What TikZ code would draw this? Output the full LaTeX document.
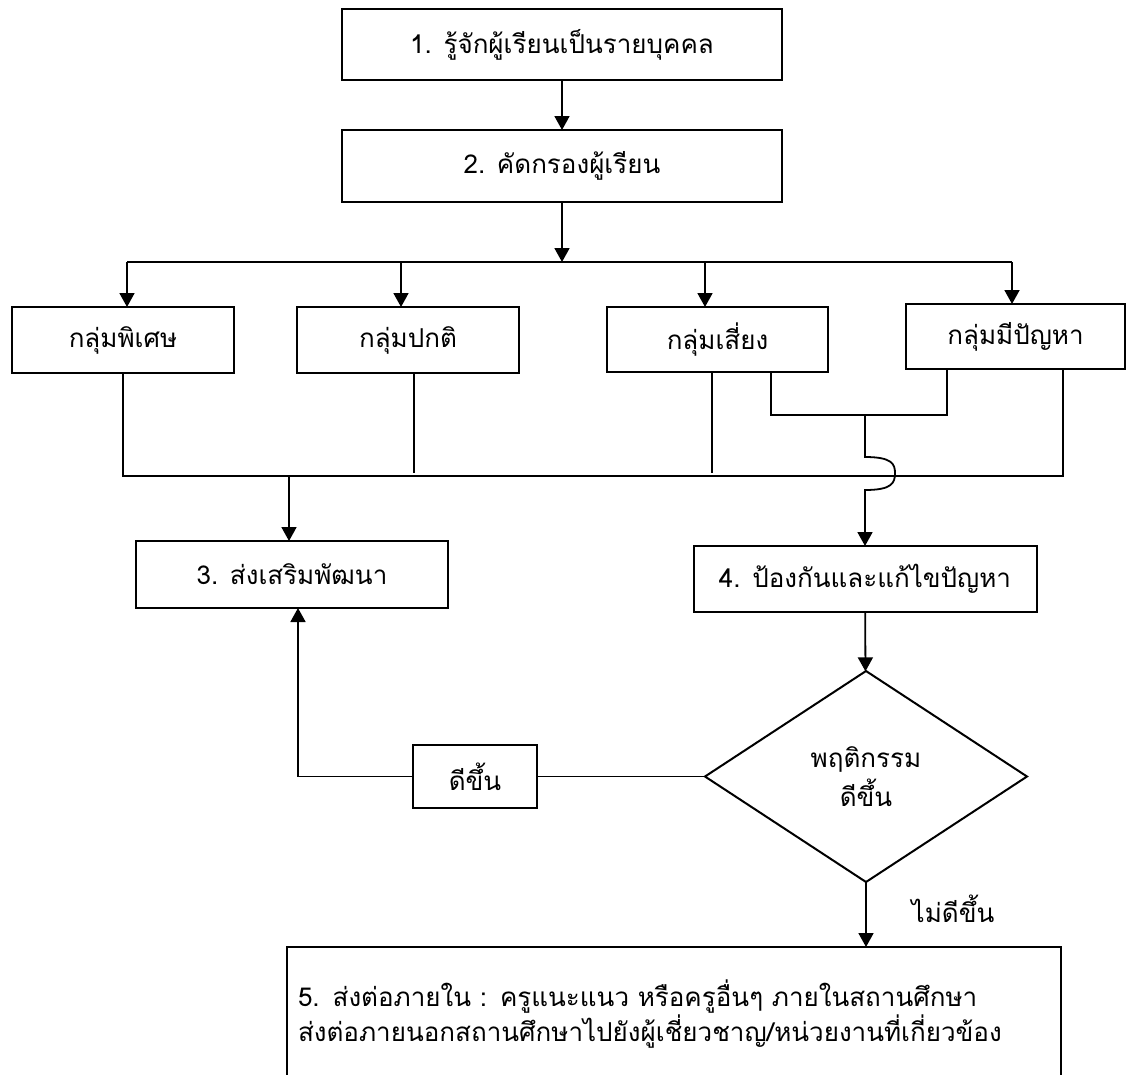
\documentclass[tikz,border=0pt]{standalone}
\usepackage{fontspec}
\newfontfamily\thaifont[Script=Thai]{Loma}
\usetikzlibrary{shapes.geometric,arrows.meta}

\begin{document}
\begin{tikzpicture}[x=1pt,y=-1pt,
	box/.style={draw,line width=2pt,inner sep=0,outer sep=0,font=\thaifont\fontsize{26}{32}\selectfont},
	lbl/.style={inner sep=0,font=\thaifont\fontsize{26}{32}\selectfont},
	line/.style={line width=1.8pt},
	arr/.style={line width=1.8pt,-{Triangle[width=15pt,length=14pt]}}]
	\clip (0,0) rectangle (1127,1074);
	\node[box,minimum width=440,minimum height=71] (1) at (562,44.5) {1. รู้จักผู้เรียนเป็นรายบุคคล};
	\node[box,minimum width=440,minimum height=72] (2) at (562,166) {2. คัดกรองผู้เรียน};
	\node[box,minimum width=222,minimum height=66] (g1) at (123,340) {กลุ่มพิเศษ};
	\node[box,minimum width=222,minimum height=66] (g2) at (408,340) {กลุ่มปกติ};
	\node[box,minimum width=221,minimum height=65] (g3) at (717.5,339.5) {กลุ่มเสี่ยง};
	\node[box,minimum width=219,minimum height=65] (g4) at (1015.5,336.5) {กลุ่มมีปัญหา};
	\node[box,minimum width=312,minimum height=67] (3) at (292,574.5) {3. ส่งเสริมพัฒนา};
	\node[box,minimum width=343,minimum height=66] (4) at (865,579) {4. ป้องกันและแก้ไขปัญหา};
	\node[box,diamond,minimum width=322,minimum height=211,align=center] (d) at (866,776.5) {พฤติกรรม\\[6pt]ดีขึ้น};
	\node[box,minimum width=124,minimum height=63] (e) at (475,776.5) {ดีขึ้น};
	\node[lbl] (n) at (953,909) {ไม่ดีขึ้น};
	\node[box,minimum width=774,minimum height=134,text width=752,align=left] (5) at (674,1014) {5. ส่งต่อภายใน : ครูแนะแนว หรือครูอื่นๆ ภายในสถานศึกษา\\ส่งต่อภายนอกสถานศึกษาไปยังผู้เชี่ยวชาญ/หน่วยงานที่เกี่ยวข้อง};
	\coordinate (t1) at (127,262);
	\coordinate (t2) at (401,262);
	\coordinate (t3) at (705,262);
	\coordinate (t4) at (1012,262);
	\coordinate (p1) at (123,476);
	\coordinate (p4) at (1063,476);
	\coordinate (j) at (865,415);
	\draw[arr] (1) -- (2);
	\draw[arr] (2.south) -- (2.south |- t1);
	\draw[line] (t1) -- (t4);
	\foreach \i in {1,...,4}
		\draw[arr] (t\i) -- (t\i |- g\i.north);
	\draw[line] (g1.south) -- (p1) -- (p4) -- ([xshift=47.5pt]g4.south);
	\draw[line] ([xshift=6pt]g2.south) -- ++(0,100);
	\draw[line] ([xshift=-5.5pt]g3.south) -- ++(0,101);
	\draw[line] ([xshift=53.5pt]g3.south) |- (j) -| ([xshift=-68.5pt]g4.south);
	\draw[arr] (j) -- (865,457) .. controls (892,457) and (895,464) .. (895,473) .. controls (895,483) and (892,490) .. (865,490) -- (4.north);
	\draw[arr] ([xshift=-3pt]3.north |- p1) -- ([xshift=-3pt]3.north);
	\draw[arr] (4) -- (d);
	\draw[line] (d.west) -- (e.east);
	\draw[arr] (e.west) -| ([xshift=6pt]3.south);
	\draw[arr] (d.south) -- (d.south |- 5.north);
\end{tikzpicture}
\end{document}
